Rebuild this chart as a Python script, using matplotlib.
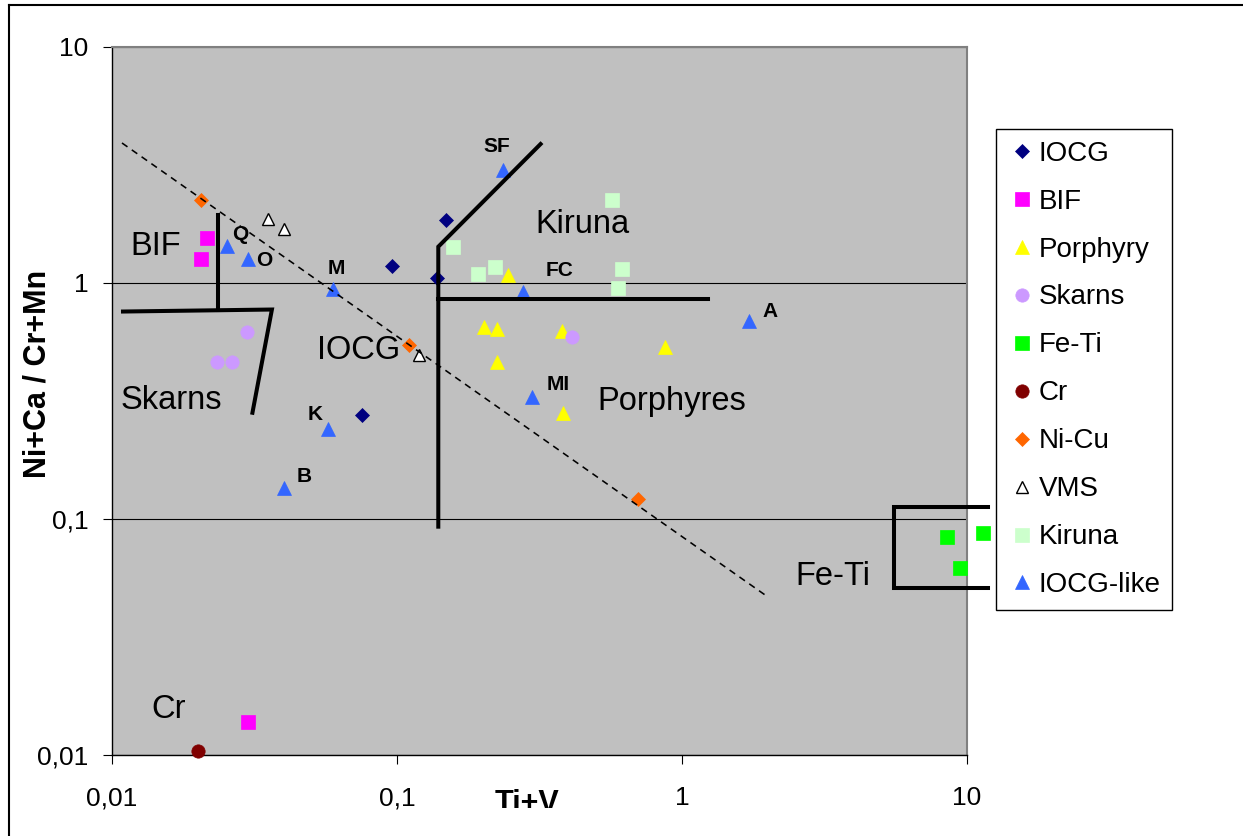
import matplotlib
matplotlib.use("Agg")
import matplotlib.pyplot as plt
from matplotlib.lines import Line2D
from matplotlib.transforms import Bbox

# values: x = Ti+V, y = Ni+Ca / Cr+Mn
iocg_x = [0.0958, 0.148, 0.1385, 0.0755]
iocg_y = [1.18, 1.85, 1.045, 0.276]
bif_x = [0.0216, 0.0205, 0.030]
bif_y = [1.546, 1.26, 0.0138]
porphyry_x = [0.2457, 0.2023, 0.2249, 0.3785, 0.2249, 0.871, 0.381]
porphyry_y = [1.081, 0.653, 0.637, 0.626, 0.464, 0.537, 0.2805]
skarns_x = [0.0297, 0.0234, 0.0263, 0.410]
skarns_y = [0.622, 0.461, 0.461, 0.592]
feti_x = [8.51, 11.38, 9.45]
feti_y = [0.0839, 0.0872, 0.062]
cr_x = [0.0201]
cr_y = [0.0104]
nicu_x = [0.0205, 0.1104, 0.702]
nicu_y = [2.25, 0.546, 0.1212]
vms_x = [0.0353, 0.0402, 0.119]
vms_y = [1.862, 1.689, 0.4955]
kiruna_x = [0.1576, 0.193, 0.2208, 0.569, 0.617, 0.5976]
kiruna_y = [1.425, 1.092, 1.173, 2.25, 1.146, 0.9495]
iocglike_x = [0.0253, 0.0299, 0.0595, 0.0571, 0.0402, 0.236, 0.276, 0.297, 1.722]
iocglike_y = [1.435, 1.26, 0.940, 0.240, 0.135, 3.01, 0.918, 0.328, 0.690]
iocglike_names = ["Q", "O", "M", "K", "B", "SF", "FC", "MI", "A"]

tick_values = [0.01, 0.1, 1, 10]
tick_labels = ["0,01", "0,1", "1", "10"]


def main():
    plt.rcParams["font.family"] = ["Liberation Sans", "DejaVu Sans"]

    W, H = 1243, 836
    fig = plt.figure(figsize=(W / 100, H / 100), dpi=100)
    ax = fig.add_axes([112 / W, 81 / H, 855 / W, 708 / H])
    ax.set_xscale("log")
    ax.set_yscale("log")
    ax.set_xlim(0.01, 10)
    ax.set_ylim(0.01, 10)
    ax.set_facecolor("#c0c0c0")

    ax.set_xticks(tick_values)
    ax.set_xticklabels(tick_labels)
    ax.set_yticks(tick_values)
    ax.set_yticklabels(tick_labels)
    ax.minorticks_off()
    ax.tick_params(axis="both", direction="out", length=6.5, width=0.8,
                   labelsize=19, color="black")
    ax.tick_params(axis="x", pad=16)
    ax.tick_params(axis="y", pad=10.5)

    ax.yaxis.grid(True, color="black", linewidth=0.8)
    ax.set_axisbelow(True)
    for s in ["left", "bottom"]:
        ax.spines[s].set_color("black")
        ax.spines[s].set_linewidth(1.0)
    for s in ["top", "right"]:
        ax.spines[s].set_color("#808080")
        ax.spines[s].set_linewidth(1.5)

    # series
    series = [
        (iocg_x, iocg_y, "IOCG", "D", 7.0, "#000080", "#000080"),
        (bif_x, bif_y, "BIF", "s", 9.4, "#ff00ff", "#ff00ff"),
        (porphyry_x, porphyry_y, "Porphyry", "^", 9.6, "#ffff00", "#ffff00"),
        (skarns_x, skarns_y, "Skarns", "o", 9.6, "#cc99ff", "#cc99ff"),
        (feti_x, feti_y, "Fe-Ti", "s", 9.4, "#00ff00", "#00ff00"),
        (cr_x, cr_y, "Cr", "o", 9.6, "#800000", "#800000"),
        (nicu_x, nicu_y, "Ni-Cu", "D", 7.0, "#ff6600", "#ff6600"),
        (vms_x, vms_y, "VMS", "^", 9.0, "white", "black"),
        (kiruna_x, kiruna_y, "Kiruna", "s", 9.4, "#ccffcc", "#ccffcc"),
        (iocglike_x, iocglike_y, "IOCG-like", "^", 9.6, "#3366ff", "#3366ff"),
    ]
    for x, y, name, mk, ms, fc, ec in series:
        ax.plot(x, y, linestyle="none", marker=mk, markersize=ms,
                markerfacecolor=fc, markeredgecolor=ec,
                markeredgewidth=1.0 if fc == "white" else 0.5,
                label=name, clip_on=False, zorder=3)

    # labels of the IOCG-like deposits (offsets in pixels)
    offsets = {"Q": (13, 6), "O": (17, -7), "M": (4, 15), "K": (-13, 9),
               "B": (20, 6), "SF": (-6, 18), "FC": (37, 16), "MI": (26, 7),
               "A": (21, 4)}
    for x, y, name in zip(iocglike_x, iocglike_y, iocglike_names):
        ax.annotate(name, (x, y), xytext=offsets[name], textcoords="offset pixels",
                    ha="center", va="baseline", fontsize=15, fontweight="bold",
                    zorder=6)

    # field boundaries
    lw = 2.9
    ax.plot([0.0236, 0.0236], [1.94, 0.768], color="black", lw=lw, zorder=5)
    ax.plot([0.01093, 0.0364, 0.0311], [0.757, 0.772, 0.282], color="black",
            lw=lw, zorder=5, solid_joinstyle="miter")
    ax.plot([0.319, 0.1396, 0.1396], [3.88, 1.425, 0.0928], color="black",
            lw=lw, zorder=5, solid_joinstyle="miter")
    ax.plot([0.1396, 1.231], [0.8557, 0.8557], color="black", lw=lw, zorder=5)
    ax.plot([11.85, 5.54, 5.54, 11.85], [0.1124, 0.1124, 0.051, 0.051],
            color="black", lw=lw, zorder=5, clip_on=False,
            solid_joinstyle="miter")
    ax.plot([0.01084, 2.004], [3.92, 0.0467], color="black", lw=1.15,
            linestyle=(0, (4.2, 3.3)), zorder=5)

    # field names
    fields = [("BIF", 0.01427, 1.315), ("Skarns", 0.0161, 0.2924),
              ("IOCG", 0.0736, 0.4764), ("Kiruna", 0.4457, 1.629),
              ("Porphyres", 0.9226, 0.2897), ("Fe-Ti", 3.373, 0.0525),
              ("Cr", 0.01578, 0.01435)]
    for name, x, y in fields:
        ax.text(x, y, name, ha="center", va="baseline", fontsize=23.5, zorder=6)

    # axis titles
    fig.text(38 / W, 1 - 374 / H, "Ni+Ca / Cr+Mn", rotation=90, fontsize=22,
             fontweight="bold", ha="center", va="center")
    xl = fig.text(527 / W, 1 - 789 / H, "Ti+V", fontsize=22, fontweight="bold",
                  ha="center", va="top")
    xl.set_clip_box(Bbox([[0, H - 808], [W, H]]))
    xl.set_clip_on(True)

    leg = ax.legend(loc="upper left", bbox_to_anchor=(996 / W, 1 - 129 / H),
                    bbox_transform=fig.transFigure, borderaxespad=0,
                    fontsize=20, frameon=True, fancybox=False, framealpha=1,
                    edgecolor="black", labelspacing=0.79, borderpad=0.42,
                    handlelength=1.0, handletextpad=0.12, numpoints=1)
    leg.get_frame().set_linewidth(1.0)

    # outer chart border
    fig.add_artist(Line2D([8.5 / W, 8.5 / W], [0, 1 - 5 / H],
                          transform=fig.transFigure, color="black", lw=1.5))
    fig.add_artist(Line2D([8.5 / W, 1], [1 - 5 / H, 1 - 5 / H],
                          transform=fig.transFigure, color="black", lw=1.5))

    fig.savefig("out.png", dpi=100, facecolor="white")


if __name__ == "__main__":
    main()
